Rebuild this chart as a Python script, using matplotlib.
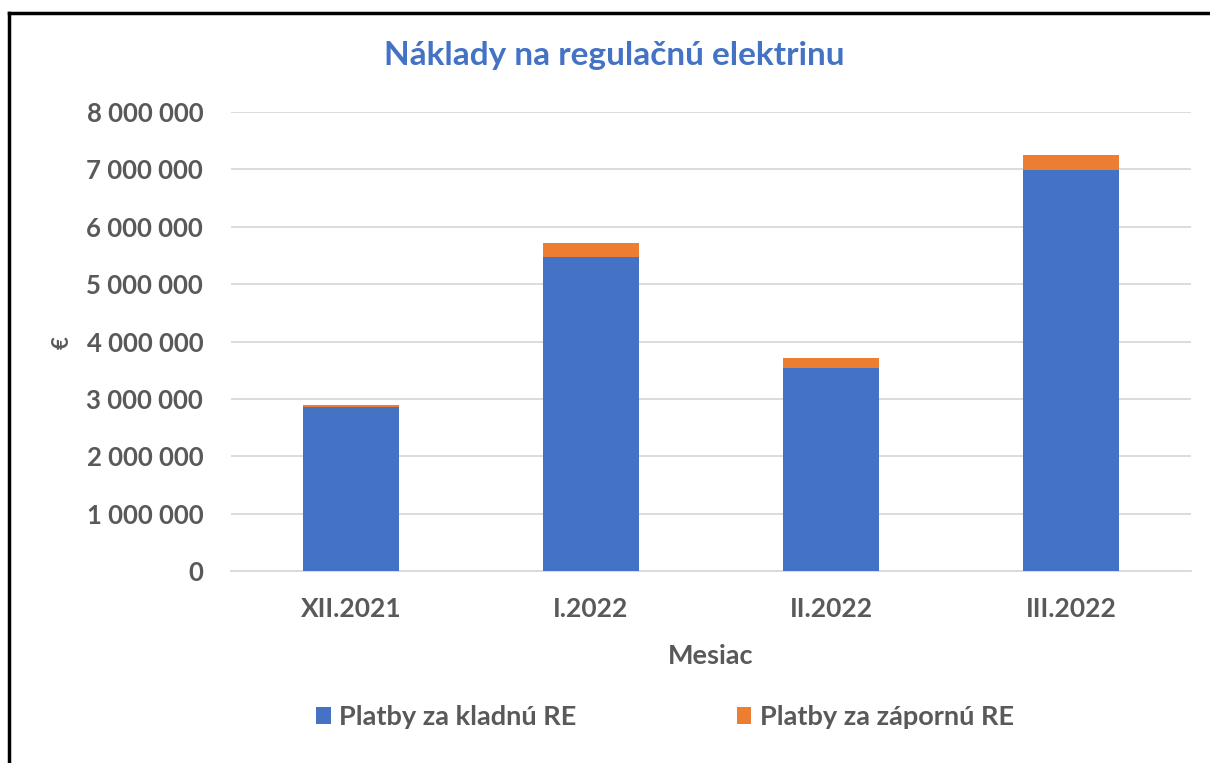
import matplotlib
matplotlib.use("Agg")
import matplotlib.pyplot as plt
from matplotlib.lines import Line2D
from matplotlib.ticker import FuncFormatter

# data (EUR)
months   = ["XII.2021", "I.2022", "II.2022", "III.2022"]
kladna   = [2850000, 5465000, 3540000, 6985000]
zaporna  = [40000, 245000, 180000, 262000]
series   = ["Platby za kladnú RE", "Platby za zápornú RE"]

BLUE   = "#4472C4"
ORANGE = "#ED7D31"
GREY   = "#595959"

plt.rcParams["font.family"] = ["Lato", "DejaVu Sans"]
plt.rcParams["font.weight"] = "bold"

fig = plt.figure(figsize=(12.1, 7.63), dpi=100)
ax = fig.add_axes([231/1210, 1 - 571/763, 960/1210, 459/763])

x = range(len(months))
ax.bar(x, kladna, width=0.4, color=BLUE, label=series[0], zorder=3)
ax.bar(x, zaporna, width=0.4, bottom=kladna, color=ORANGE, label=series[1], zorder=3)

ax.set_xlim(-0.5, len(months) - 0.5)
ax.set_ylim(0, 8000000)
ax.set_yticks(range(0, 8000001, 1000000))
ax.yaxis.set_major_formatter(FuncFormatter(lambda v, p: f"{int(v):,}".replace(",", " ")))
ax.set_xticks(list(x))
ax.set_xticklabels(months)
ax.tick_params(axis="both", length=0, labelcolor=GREY)
ax.tick_params(axis="x", pad=19, labelsize=19)
ax.tick_params(axis="y", pad=20, labelsize=18.5)
ax.grid(axis="y", color="#D9D9D9", lw=1.3, zorder=0)
for s in ["top", "right", "left"]:
    ax.spines[s].set_visible(False)
ax.spines["bottom"].set_color("#D9D9D9")
ax.spines["bottom"].set_linewidth(1.3)

ax.set_xlabel("Mesiac", fontsize=19.5, color=GREY, fontweight="bold", labelpad=16)
fig.text(62/1210, 1 - 343/763, "€", rotation=90, fontsize=16, color=GREY,
         fontweight="bold", ha="center", va="center")

fig.text(614/1210, 1 - 55/763, "Náklady na regulačnú elektrinu", fontsize=24,
         color=BLUE, fontweight="bold", ha="center", va="center")

ax.legend(loc="center", bbox_to_anchor=((665 - 231) / 960, 1 - (717 - 112) / 459), ncol=2,
          frameon=False, fontsize=19.5, labelcolor=GREY, handlelength=0.55,
          handleheight=0.55, handletextpad=0.3, columnspacing=5.9)

# outer frame (top and left edges visible)
fig.add_artist(Line2D([9/1210, 1], [1 - 13/763, 1 - 13/763], color="black", lw=2.5,
                      transform=fig.transFigure))
fig.add_artist(Line2D([9/1210, 9/1210], [0, 1 - 13/763], color="black", lw=2.5,
                      transform=fig.transFigure))

fig.savefig("out.png", dpi=100)
